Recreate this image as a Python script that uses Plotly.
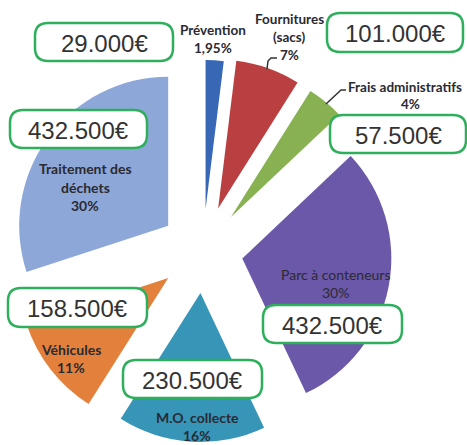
import plotly.graph_objects as go

# ---------------- data ----------------
categories = ["Prévention", "Fournitures\n(sacs)", "Frais administratifs", "Parc à conteneurs",
              "M.O. collecte", "Véhicules", "Traitement des\ndéchets"]
percent_values = [1.95, 7, 4, 30, 16, 11, 30]
percent_labels = ["1,95%", "7%", "4%", "30%", "16%", "11%", "30%"]
amount_labels = ["29.000€", "101.000€", "57.500€", "432.500€", "230.500€", "158.500€", "432.500€"]

# ---------------- style / layout ----------------
W, H = 467, 445
colors = ["#3867B6", "#BA3F40", "#88B252", "#6B58A8", "#3795B8", "#E3813C", "#8DA8D8"]

# pie geometry in pixels
CX, R = 203, 149
pull_px = [42, 45, 44, 40, 42, 44, 43]
max_pull = max(pull_px)
half = R + max_pull
CY = H - half
pulls = [p / R for p in pull_px]
dom_x = [(CX - half) / W, (CX + half) / W]
dom_y = [0.0, 1 - (CY - half) / H]

fig = go.Figure(go.Pie(
    values=percent_values,
    labels=[c.replace("\n", " ") for c in categories],
    sort=False,
    direction="clockwise",
    rotation=0,
    pull=pulls,
    marker=dict(colors=colors, line=dict(width=0)),
    textinfo="none",
    hoverinfo="skip",
    showlegend=False,
    domain=dict(x=dom_x, y=dom_y),
))

def px(x):
    return x / W

def py(y):
    return 1 - y / H

# label anchor (center of first line, px), font size, bold
label_pos = [(213, 30), (289, 19), (405, 87), (335, 274), (197, 417), (71, 349), (85, 169)]
label_bold = [True, True, True, False, True, True, True]
label_size = [13.5, 13.5, 13.5, 14, 14, 14, 14]
LINE = 18

annotations = []
for i, cat in enumerate(categories):
    lines = cat.split("\n") + [percent_labels[i]]
    x0, y0 = label_pos[i]
    sp = 16.5 if i == 2 else LINE
    for j, ln in enumerate(lines):
        xx = x0 + (5 if (i == 2 and j == 1) else 0)
        annotations.append(dict(
            x=px(xx), y=py(y0 + j * sp), xref="paper", yref="paper",
            text=(f"<b>{ln}</b>" if label_bold[i] else ln),
            showarrow=False, xanchor="center", yanchor="middle",
            font=dict(family="Lato, Open Sans, sans-serif", size=label_size[i], color="#2a2a33"),
        ))

# amount boxes (px): x0, y0, x1, y1
box_pos = [(35, 23, 173, 61), (327, 13, 463, 52), (330, 115, 466, 153), (263, 305, 402, 343),
           (123, 360, 262, 398), (8, 288, 147, 327), (10, 110, 147, 148)]

def rrect(x0, y0, x1, y1, r):
    P = lambda x, y: f"{px(x):.5f},{py(y):.5f}"
    return (f"M {P(x0 + r, y0)} L {P(x1 - r, y0)} Q {P(x1, y0)} {P(x1, y0 + r)} "
            f"L {P(x1, y1 - r)} Q {P(x1, y1)} {P(x1 - r, y1)} "
            f"L {P(x0 + r, y1)} Q {P(x0, y1)} {P(x0, y1 - r)} "
            f"L {P(x0, y0 + r)} Q {P(x0, y0)} {P(x0 + r, y0)} Z")

shapes = []
for i, txt in enumerate(amount_labels):
    x0, y0, x1, y1 = box_pos[i]
    shapes.append(dict(type="path", xref="paper", yref="paper", path=rrect(x0, y0, x1, y1, 13),
                       fillcolor="white", line=dict(color="#2EAF5C", width=2.5), layer="above"))
    annotations.append(dict(
        x=px((x0 + x1) / 2), y=py((y0 + y1) / 2 + 1), xref="paper", yref="paper",
        text=txt, showarrow=False, xanchor="center", yanchor="middle",
        font=dict(family="Liberation Sans, Arial, sans-serif", size=24, color="#333333"),
    ))

# leader lines
def path_px(pts):
    return "M " + " L ".join(f"{px(x):.5f},{py(y):.5f}" for x, y in pts)

shapes.append(dict(type="path", xref="paper", yref="paper",
                   path=path_px([(277, 58), (271, 58), (268, 61), (267, 69)]),
                   line=dict(color="#333333", width=1.5)))
shapes.append(dict(type="path", xref="paper", yref="paper",
                   path=path_px([(346, 90), (341, 90), (326, 104)]),
                   line=dict(color="#333333", width=1.5)))

fig.update_layout(
    width=W, height=H,
    margin=dict(l=0, r=0, t=0, b=0),
    paper_bgcolor="white", plot_bgcolor="white",
    annotations=annotations,
    shapes=shapes,
)

fig.write_html("out.html",
               config={"displayModeBar": False},
               post_script="document.body.style.margin='0';document.body.style.overflow='hidden';")
